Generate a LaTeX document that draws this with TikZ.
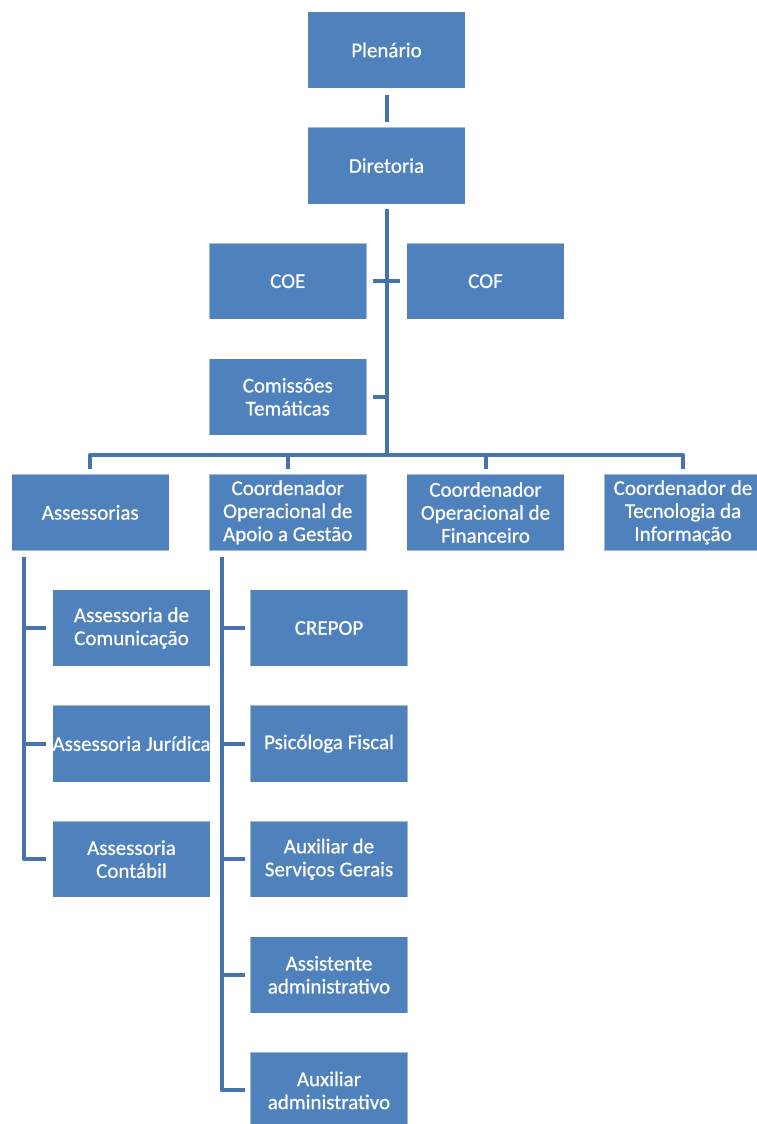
\documentclass[tikz,border=0pt]{standalone}
\usepackage{fontspec}
\setmainfont{Carlito}[FakeBold=2.5]
\definecolor{boxblue}{HTML}{4F81BD}
\definecolor{lineblue}{HTML}{4673AE}
\begin{document}
\begin{tikzpicture}[x=1pt,y=1pt,
  box/.style={rectangle, fill=boxblue, draw=white, draw opacity=0.45, line width=0.7pt,
    minimum width=157.5pt, minimum height=76.5pt, inner sep=0pt, align=center,
    text=white, font=\fontsize{21}{23}\selectfont},
  conn/.style={draw=lineblue, line width=4pt, line join=round}]
\useasboundingbox (0,0) rectangle (756,-1124);
% top
\node[box] (pl)  at (386.5,-50)    {Plenário};
\node[box] (dir) at (386.5,-165.6) {Diretoria};
\node[box] (coe) at (287.75,-281.2) {COE};
\node[box] (cof) at (485.5,-281.2) {COF};
\node[box] (com) at (287.75,-396.8) {Comissões\\Temáticas};
% second row
\node[box] (ass) at (90.25,-512.4)  {Assessorias};
\node[box] (cop) at (287.75,-512.4) {Coordenador\\Operacional de\\Apoio a Gestão};
\node[box] (cof2) at (485.5,-512.4) {Coordenador\\Operacional de\\Financeiro};
\node[box] (cti) at (683,-512.4)    {Coordenador de\\Tecnologia da\\Informação};
% assessorias children
\node[box] (acom) at (131.5,-628)   {Assessoria de\\Comunicação};
\node[box] (ajur) at (131.5,-743.6) {Assessoria Jurídica};
\node[box] (acon) at (131.5,-859.2) {Assessoria\\Contábil};
% coordinator children
\node[box] (crep) at (329,-628)   {CREPOP};
\node[box] (psi)  at (329,-743.6) {Psicóloga Fiscal};
\node[box] (aux)  at (329,-859.2) {Auxiliar de\\Serviços Gerais};
\node[box] (asst) at (329,-974.8) {Assistente\\administrativo};
\node[box] (auxa) at (329,-1090.4) {Auxiliar\\administrativo};
% coordinates
\coordinate (bar) at (386.5,-455);
\coordinate (lv) at (24,-557);
\coordinate (mv) at (221.5,-557);
% connectors
\draw[conn, shorten <=6pt, shorten >=5pt] (pl.south) -- (dir.north);
\draw[conn, shorten <=5pt] (dir.south) -- (bar);
\draw[conn, shorten <=6pt, shorten >=6pt] (coe.east) -- (cof.east -| cof.west);
\draw[conn, shorten <=6pt] (com.east) -- (com.east -| bar);
\draw[conn, shorten <=5pt, shorten >=5pt] (ass.north) -- (ass.north |- bar) -- (cti.north |- bar) -- (cti.north);
\draw[conn, shorten >=5pt] (cop.north |- bar) -- (cop.north);
\draw[conn, shorten >=5pt] (cof2.north |- bar) -- (cof2.north);
% assessorias branch
\draw[conn, shorten >=6pt] (lv) |- (acon.west);
\draw[conn, shorten >=6pt] (acom.west -| lv) -- (acom.west);
\draw[conn, shorten >=6pt] (ajur.west -| lv) -- (ajur.west);
% coordinator branch
\draw[conn, shorten >=5pt] (mv) |- (auxa.west);
\draw[conn, shorten >=5pt] (crep.west -| mv) -- (crep.west);
\draw[conn, shorten >=5pt] (psi.west -| mv) -- (psi.west);
\draw[conn, shorten >=5pt] (aux.west -| mv) -- (aux.west);
\draw[conn, shorten >=5pt] (asst.west -| mv) -- (asst.west);
\end{tikzpicture}
\end{document}
